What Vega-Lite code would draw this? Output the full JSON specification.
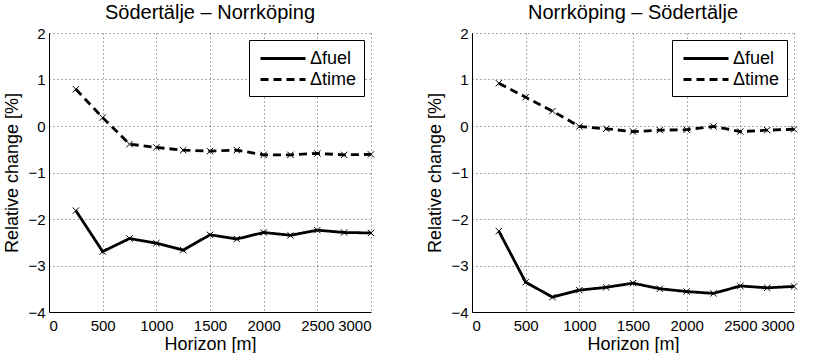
{
  "$schema": "https://vega.github.io/schema/vega-lite/v6.json",
  "padding": {"left": 3, "top": 3, "right": 5, "bottom": 0},
  "background": "white",
  "datasets": {
    "d": [
      {"panel": "A", "series": "Δfuel", "x": 250, "y": -1.82},
      {"panel": "A", "series": "Δfuel", "x": 500, "y": -2.70},
      {"panel": "A", "series": "Δfuel", "x": 750, "y": -2.42},
      {"panel": "A", "series": "Δfuel", "x": 1000, "y": -2.52},
      {"panel": "A", "series": "Δfuel", "x": 1250, "y": -2.67},
      {"panel": "A", "series": "Δfuel", "x": 1500, "y": -2.34},
      {"panel": "A", "series": "Δfuel", "x": 1750, "y": -2.43},
      {"panel": "A", "series": "Δfuel", "x": 2000, "y": -2.29},
      {"panel": "A", "series": "Δfuel", "x": 2250, "y": -2.35},
      {"panel": "A", "series": "Δfuel", "x": 2500, "y": -2.24},
      {"panel": "A", "series": "Δfuel", "x": 2750, "y": -2.29},
      {"panel": "A", "series": "Δfuel", "x": 3000, "y": -2.30},
      {"panel": "A", "series": "Δtime", "x": 250, "y": 0.79},
      {"panel": "A", "series": "Δtime", "x": 500, "y": 0.18},
      {"panel": "A", "series": "Δtime", "x": 750, "y": -0.39},
      {"panel": "A", "series": "Δtime", "x": 1000, "y": -0.46},
      {"panel": "A", "series": "Δtime", "x": 1250, "y": -0.52},
      {"panel": "A", "series": "Δtime", "x": 1500, "y": -0.54},
      {"panel": "A", "series": "Δtime", "x": 1750, "y": -0.52},
      {"panel": "A", "series": "Δtime", "x": 2000, "y": -0.62},
      {"panel": "A", "series": "Δtime", "x": 2250, "y": -0.62},
      {"panel": "A", "series": "Δtime", "x": 2500, "y": -0.59},
      {"panel": "A", "series": "Δtime", "x": 2750, "y": -0.62},
      {"panel": "A", "series": "Δtime", "x": 3000, "y": -0.61},
      {"panel": "B", "series": "Δfuel", "x": 250, "y": -2.26},
      {"panel": "B", "series": "Δfuel", "x": 500, "y": -3.36},
      {"panel": "B", "series": "Δfuel", "x": 750, "y": -3.68},
      {"panel": "B", "series": "Δfuel", "x": 1000, "y": -3.53},
      {"panel": "B", "series": "Δfuel", "x": 1250, "y": -3.47},
      {"panel": "B", "series": "Δfuel", "x": 1500, "y": -3.38},
      {"panel": "B", "series": "Δfuel", "x": 1750, "y": -3.50},
      {"panel": "B", "series": "Δfuel", "x": 2000, "y": -3.56},
      {"panel": "B", "series": "Δfuel", "x": 2250, "y": -3.60},
      {"panel": "B", "series": "Δfuel", "x": 2500, "y": -3.44},
      {"panel": "B", "series": "Δfuel", "x": 2750, "y": -3.48},
      {"panel": "B", "series": "Δfuel", "x": 3000, "y": -3.45},
      {"panel": "B", "series": "Δtime", "x": 250, "y": 0.92},
      {"panel": "B", "series": "Δtime", "x": 500, "y": 0.62},
      {"panel": "B", "series": "Δtime", "x": 750, "y": 0.32},
      {"panel": "B", "series": "Δtime", "x": 1000, "y": -0.01},
      {"panel": "B", "series": "Δtime", "x": 1250, "y": -0.06},
      {"panel": "B", "series": "Δtime", "x": 1500, "y": -0.12},
      {"panel": "B", "series": "Δtime", "x": 1750, "y": -0.09},
      {"panel": "B", "series": "Δtime", "x": 2000, "y": -0.08},
      {"panel": "B", "series": "Δtime", "x": 2250, "y": -0.01},
      {"panel": "B", "series": "Δtime", "x": 2500, "y": -0.12},
      {"panel": "B", "series": "Δtime", "x": 2750, "y": -0.09},
      {"panel": "B", "series": "Δtime", "x": 3000, "y": -0.07}
    ]
  },
  "data": {"name": "d"},
  "bounds": "flush",
  "spacing": 101,
  "resolve": {"legend": {"strokeDash": "independent"}, "scale": {"strokeDash": "independent"}},
  "hconcat": [
    {
      "title": "Södertälje – Norrköping",
      "width": 322,
      "height": 279,
      "transform": [{"filter": "datum.panel === 'A'"}],
      "encoding": {
        "x": {"field": "x", "type": "quantitative", "scale": {"domain": [0, 3000], "nice": false}, "axis": {"values": [0, 500, 1000, 1500, 2000, 2500, 3000], "format": "d", "title": "Horizon [m]"}},
        "y": {"field": "y", "type": "quantitative", "scale": {"domain": [-4, 2], "nice": false}, "axis": {"values": [-4, -3, -2, -1, 0, 1, 2], "title": "Relative change [%]"}}
      },
      "layer": [
        {
          "mark": {"type": "line", "color": "black", "strokeWidth": 2.8},
          "encoding": {
            "strokeDash": {"field": "series", "type": "nominal", "scale": {"domain": ["Δfuel", "Δtime"], "range": [[1, 0], [8, 5]]}, "legend": {"title": null, "orient": "top-right", "offset": 7}}
          }
        },
        {
          "mark": {"type": "point", "shape": "M-1,-1L1,1M-1,1L1,-1", "filled": false, "stroke": "black", "strokeWidth": 1, "size": 40, "opacity": 1},
          "encoding": {"detail": {"field": "series"}}
        }
      ]
    },
    {
      "title": "Norrköping – Södertälje",
      "width": 322,
      "height": 279,
      "transform": [{"filter": "datum.panel === 'B'"}],
      "encoding": {
        "x": {"field": "x", "type": "quantitative", "scale": {"domain": [0, 3000], "nice": false}, "axis": {"values": [0, 500, 1000, 1500, 2000, 2500, 3000], "format": "d", "title": "Horizon [m]"}},
        "y": {"field": "y", "type": "quantitative", "scale": {"domain": [-4, 2], "nice": false}, "axis": {"values": [-4, -3, -2, -1, 0, 1, 2], "title": "Relative change [%]"}}
      },
      "layer": [
        {
          "mark": {"type": "line", "color": "black", "strokeWidth": 2.8},
          "encoding": {
            "strokeDash": {"field": "series", "type": "nominal", "scale": {"domain": ["Δfuel", "Δtime"], "range": [[1, 0], [8, 5]]}, "legend": {"title": null, "orient": "top-right", "offset": 7}}
          }
        },
        {
          "mark": {"type": "point", "shape": "M-1,-1L1,1M-1,1L1,-1", "filled": false, "stroke": "black", "strokeWidth": 1, "size": 40, "opacity": 1},
          "encoding": {"detail": {"field": "series"}}
        }
      ]
    }
  ],
  "config": {
    "font": "Liberation Sans",
    "view": {"stroke": null},
    "title": {"fontSize": 20, "fontWeight": "normal", "color": "black", "offset": 3, "anchor": "middle"},
    "axis": {
      "domainColor": "black",
      "domainWidth": 1,
      "grid": true,
      "gridColor": "#555",
      "gridDash": [1, 3],
      "gridWidth": 1,
      "gridOpacity": 1,
      "ticks": false,
      "labelFontSize": 15,
      "labelColor": "black",
      "titleFontSize": 18,
      "titleFontWeight": "normal",
      "titleColor": "black"
    },
    "axisY": {"titlePadding": 6, "labelPadding": 4},
    "axisX": {"titlePadding": 2, "labelPadding": 6},
    "legend": {
      "strokeColor": "black",
      "fillColor": "white",
      "padding": 7,
      "labelFontSize": 18,
      "labelColor": "black",
      "symbolType": "M-2.25,0L2.25,0",
      "symbolSize": 400,
      "symbolOffset": 15.5,
      "symbolStrokeWidth": 2.8,
      "symbolStrokeColor": "black",
      "rowPadding": 0,
      "labelOffset": 15.5
    }
  }
}
